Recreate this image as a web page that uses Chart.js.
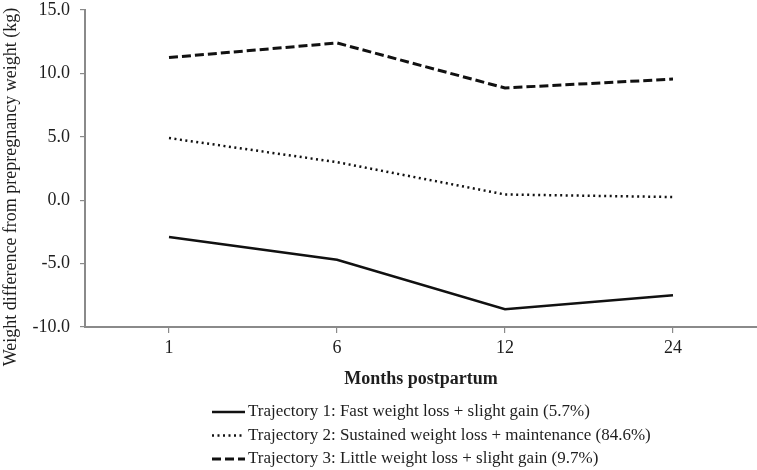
<!DOCTYPE html>
<html>
<head>
<meta charset="utf-8">
<script src="https://cdn.jsdelivr.net/npm/chart.js@4"></script>
<style>
  body { margin: 0; background: #fff; }
  #box { width: 757px; height: 470px; }
</style>
</head>
<body>
<div id="box"><canvas id="grafico"></canvas></div>
<script>
// dados
const meses = ['1', '6', '12', '24'];
const traj1 = [-2.9, -4.7, -8.6, -7.5];
const traj2 = [4.9, 3.0, 0.45, 0.25];
const traj3 = [11.25, 12.4, 8.85, 9.55];
const nomes = [
  'Trajectory 1: Fast weight loss + slight gain (5.7%)',
  'Trajectory 2: Sustained weight loss + maintenance (84.6%)',
  'Trajectory 3: Little weight loss + slight gain (9.7%)'
];
const yMin = -10, yMax = 15, yPasso = 5;
const tituloY = 'Weight difference from prepregnancy weight (kg)';
const tituloX = 'Months postpartum';

const fonte = '"Liberation Serif", "Times New Roman", serif';
const corTexto = '#1e1e1e';
const corEixo = '#8a8a8a';

// legenda e titulo do eixo y desenhados a mao
const extras = {
  id: 'extras',
  afterDraw(chart) {
    const ctx = chart.ctx;
    ctx.save();
    ctx.fillStyle = corTexto;
    ctx.font = '18px ' + fonte;
    // titulo y
    ctx.save();
    ctx.translate(11, 187);
    ctx.rotate(-Math.PI / 2);
    ctx.textAlign = 'center';
    ctx.textBaseline = 'middle';
    ctx.fillText(tituloY, 0, 0);
    ctx.restore();
    // legenda
    ctx.font = '17px ' + fonte;
    let y = 412;
    chart.data.datasets.forEach(ds => {
      ctx.strokeStyle = ds.borderColor;
      ctx.lineWidth = ds.borderWidth;
      ctx.setLineDash(ds.borderDash || []);
      ctx.beginPath();
      ctx.moveTo(212, y);
      ctx.lineTo(245, y);
      ctx.stroke();
      ctx.setLineDash([]);
      ctx.textAlign = 'left';
      ctx.textBaseline = 'middle';
      ctx.fillText(ds.label, 248, y);
      y += 23.5;
    });
    ctx.restore();
  }
};

new Chart(document.getElementById('grafico'), {
  type: 'line',
  data: {
    labels: meses,
    datasets: [
      { label: nomes[0], data: traj1, borderColor: '#111', borderWidth: 2.5, borderDash: [] },
      { label: nomes[1], data: traj2, borderColor: '#111', borderWidth: 2.5, borderDash: [2, 3.5] },
      { label: nomes[2], data: traj3, borderColor: '#111', borderWidth: 3, borderDash: [9, 4] }
    ]
  },
  options: {
    responsive: true,
    maintainAspectRatio: false,
    animation: false,
    layout: { padding: { top: 0, right: 0, left: 0, bottom: 80 } },
    elements: { point: { radius: 0, hoverRadius: 0 }, line: { tension: 0, fill: false } },
    plugins: { legend: { display: false }, tooltip: { enabled: false } },
    scales: {
      x: {
        offset: true,
        afterFit: s => { s.height = 63; },
        grid: { offset: false, drawOnChartArea: false, drawTicks: true, tickLength: 6, color: corEixo, lineWidth: 1.2 },
        border: { color: corEixo, width: 2 },
        ticks: { color: corTexto, font: { family: fonte, size: 18 }, padding: 4 },
        title: { display: true, text: tituloX, color: corTexto, font: { family: fonte, size: 18, weight: 'bold' }, padding: 0 }
      },
      y: {
        min: yMin,
        max: yMax,
        afterFit: s => { s.width = 85; s.paddingTop = 10; },
        grid: { drawOnChartArea: false, drawTicks: true, tickLength: 5, color: corEixo, lineWidth: 1.2 },
        border: { color: corEixo, width: 2 },
        ticks: {
          stepSize: yPasso,
          color: corTexto,
          font: { family: fonte, size: 18 },
          padding: 10,
          callback: v => v.toFixed(1)
        }
      }
    }
  },
  plugins: [extras]
});
</script>
</body>
</html>
